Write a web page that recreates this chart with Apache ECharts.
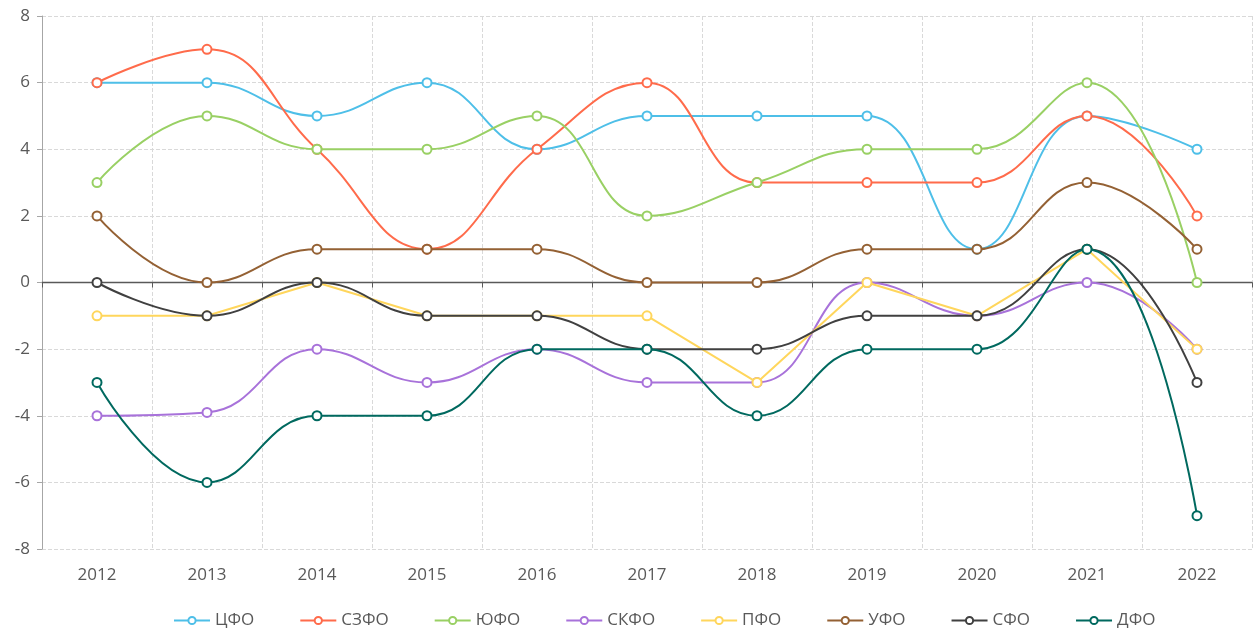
<!DOCTYPE html>
<html>
<head>
  <meta charset="utf-8">
  <title>ECharts</title>
  <script src="https://cdn.jsdelivr.net/npm/echarts@6/dist/echarts.min.js"></script>
</head>
<body style="margin:0">
<div id="main" style="width: 1253px;height:635px;"></div>
<script type="text/javascript">
  // years and district series
  var years = ['2012','2013','2014','2015','2016','2017','2018','2019','2020','2021','2022'];
  var cfo  = [6, 6, 5, 6, 4, 5, 5, 5, 1, 5, 4];
  var szfo = [6, 7, 4, 1, 4, 6, 3, 3, 3, 5, 2];
  var yufo = [3, 5, 4, 4, 5, 2, 3, 4, 4, 6, 0];
  var skfo = [-4, -3.9, -2, -3, -2, -3, -3, 0, -1, 0, -2];
  var pfo  = [-1, -1, 0, -1, -1, -1, -3, 0, -1, 1, -2];
  var ufo  = [2, 0, 1, 1, 1, 0, 0, 1, 1, 3, 1];
  var sfo  = [0, -1, 0, -1, -1, -2, -2, -1, -1, 1, -3];
  var dfo  = [-3, -6, -4, -4, -2, -2, -4, -2, -2, 1, -7];

  var names  = ['ЦФО','СЗФО','ЮФО','СКФО','ПФО','УФО','СФО','ДФО'];
  var values = [cfo, szfo, yufo, skfo, pfo, ufo, sfo, dfo];
  var colors = ['#4EBFE8','#FF6B4B','#99D064','#A872DA','#FFD65C','#946134','#404040','#00695F'];
  var smoothFlags = [true, true, true, true, false, true, true, true];

  var myChart = echarts.init(document.getElementById('main'));

  var series = names.map(function (n, i) {
    return {
      name: n,
      type: 'line',
      data: values[i],
      smooth: smoothFlags[i] ? 0.45 : false,
      symbol: 'emptyCircle',
      symbolSize: 9,
      lineStyle: {width: 2},
      itemStyle: {borderWidth: 1.6},
      z: 3 + i
    };
  });

  var font = 'Open Sans';

  option = {
    color: colors,
    animation: false,
    grid: {left: 42, right: 1, top: 16, bottom: 86},
    legend: {
      data: names,
      bottom: 1,
      left: 168,
      itemWidth: 36,
      itemHeight: 9,
      itemGap: 45,
      textStyle: {color: '#595959', fontSize: 17, fontFamily: font}
    },
    xAxis: [
      {
        type: 'category',
        data: years,
        position: 'bottom',
        axisLine: {show: false, onZero: false},
        axisTick: {show: false},
        axisLabel: {color: '#595959', fontSize: 17, fontFamily: font, margin: 18},
        splitLine: {show: true, interval: 0, lineStyle: {type: 'dashed', color: '#d9d9d9'}}
      },
      {
        type: 'category',
        data: years,
        position: 'bottom',
        axisLine: {show: true, onZero: true, lineStyle: {color: '#595959', width: 1.3}},
        axisTick: {show: true, interval: 0, length: 5, lineStyle: {color: '#595959'}},
        axisLabel: {show: false},
        splitLine: {show: false}
      }
    ],
    yAxis: {
      type: 'value',
      min: -8,
      max: 8,
      interval: 2,
      axisLine: {show: true, lineStyle: {color: '#a6a6a6'}},
      axisTick: {show: true, length: 5, lineStyle: {color: '#a6a6a6'}},
      axisLabel: {color: '#595959', fontSize: 17, fontFamily: font, margin: 12},
      splitLine: {lineStyle: {type: 'dashed', color: '#d9d9d9'}}
    },
    series: series
  };

  myChart.setOption(option);
</script>
</body>
</html>
